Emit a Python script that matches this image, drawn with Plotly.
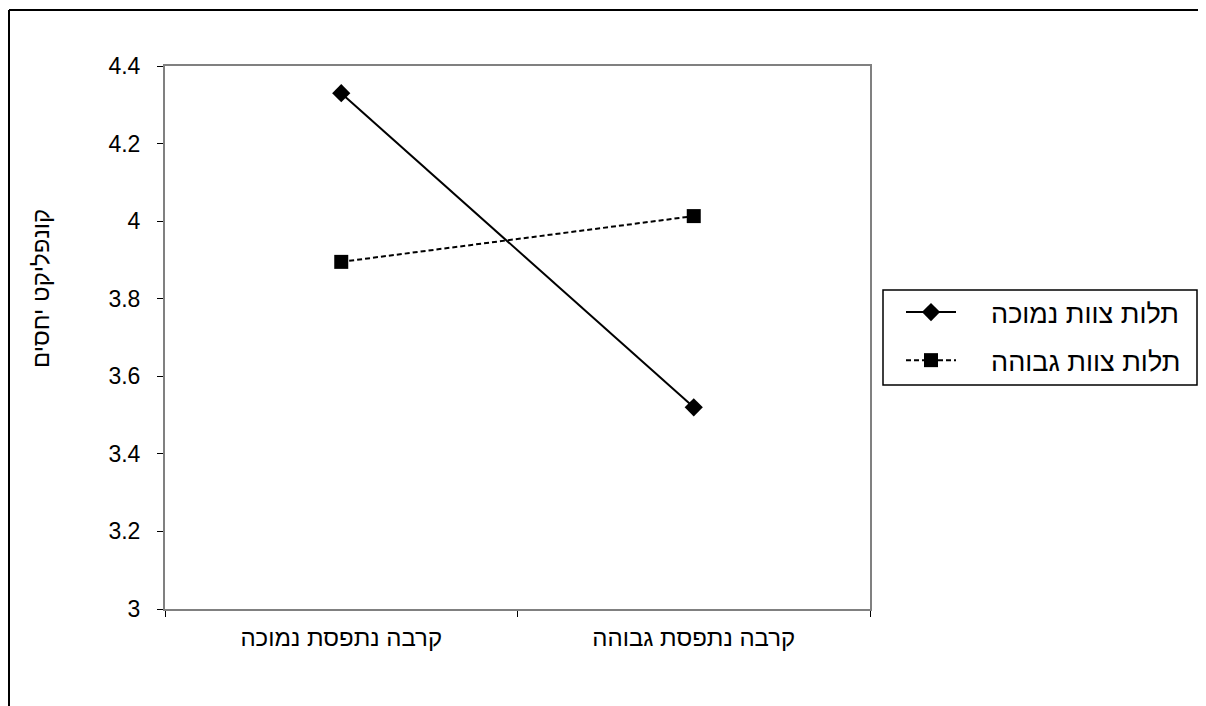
import plotly.graph_objects as go

categories = ["קרבה נתפסת נמוכה", "קרבה נתפסת גבוהה"]
series_names = ["תלות צוות נמוכה", "תלות צוות גבוהה"]
low_dependence = [4.33, 3.52]
high_dependence = [3.895, 4.013]
y_title = "קונפליקט יחסים"
y_ticks = [3, 3.2, 3.4, 3.6, 3.8, 4, 4.2, 4.4]
y_ticktext = ["3", "3.2", "3.4", "3.6", "3.8", "4", "4.2", "4.4"]

FONT = "Liberation Sans, DejaVu Sans, sans-serif"
PAD = "\u00a0" * 4

# page body has an 8px margin; the figure is placed at (8, 8) on the page
OFF = 8
W, H = 1198, 698
L, R, T = 165 - OFF, 1206 - 870, 66 - OFF
B = H - (609 - OFF)
pw, ph = W - L - R, H - T - B


def px_x(x):
    # page-pixel x -> paper coordinate
    return (x - OFF - L) / pw


def px_y(y):
    # page-pixel y -> paper coordinate
    return (H - B - (y - OFF)) / ph


fig = go.Figure()
fig.add_trace(go.Scatter(
    x=categories, y=low_dependence, name=PAD + series_names[0],
    mode="lines+markers", legendgroup="a",
    line=dict(color="black", width=2),
    marker=dict(symbol="diamond", size=14, color="black"),
))
fig.add_trace(go.Scatter(
    x=categories, y=high_dependence, name=PAD + series_names[1],
    mode="lines+markers", legendgroup="b",
    line=dict(color="black", width=2, dash="5px,3px"),
    marker=dict(symbol="square", size=14, color="black"),
))

fig.update_layout(
    width=W, height=H,
    margin=dict(l=L, r=R, t=T, b=B, autoexpand=False),
    paper_bgcolor="white", plot_bgcolor="white",
    font=dict(family=FONT, size=23, color="black"),
    showlegend=True,
    legend=dict(
        x=px_x(901), y=px_y(288), xanchor="left", yanchor="top",
        borderwidth=0, bgcolor="rgba(0,0,0,0)",
        font=dict(size=27), tracegroupgap=10, itemwidth=50,
    ),
    xaxis=dict(
        type="category", range=[-0.5, 1.5], showgrid=False,
        showline=True, linecolor="#808080", linewidth=2, mirror=True,
        ticks="outside", tickson="boundaries", ticklen=6, tickcolor="black",
        ticklabelstandoff=6, zeroline=False, tickfont=dict(size=24),
    ),
    yaxis=dict(
        range=[3, 4.4], tickvals=y_ticks, ticktext=y_ticktext, showgrid=False,
        showline=True, linecolor="#808080", linewidth=2, mirror=True,
        ticks="outside", ticklen=6, tickcolor="black",
        ticklabelstandoff=12, zeroline=False,
    ),
    annotations=[dict(
        text=y_title, textangle=-90, xref="paper", yref="paper",
        x=px_x(40), y=px_y(289), showarrow=False, font=dict(size=24),
        xanchor="center", yanchor="middle",
    )],
    shapes=[
        # outer chart border (top and left edges visible)
        dict(type="line", xref="paper", yref="paper", x0=px_x(9), x1=px_x(1230),
             y0=px_y(10), y1=px_y(10), line=dict(color="black", width=2)),
        dict(type="line", xref="paper", yref="paper", x0=px_x(9), x1=px_x(9),
             y0=px_y(10), y1=px_y(730), line=dict(color="black", width=2)),
        # legend frame
        dict(type="rect", xref="paper", yref="paper", x0=px_x(883), x1=px_x(1197),
             y0=px_y(385), y1=px_y(290), line=dict(color="black", width=1.5),
             fillcolor="rgba(0,0,0,0)"),
    ],
)

fig.write_html("out.html")
